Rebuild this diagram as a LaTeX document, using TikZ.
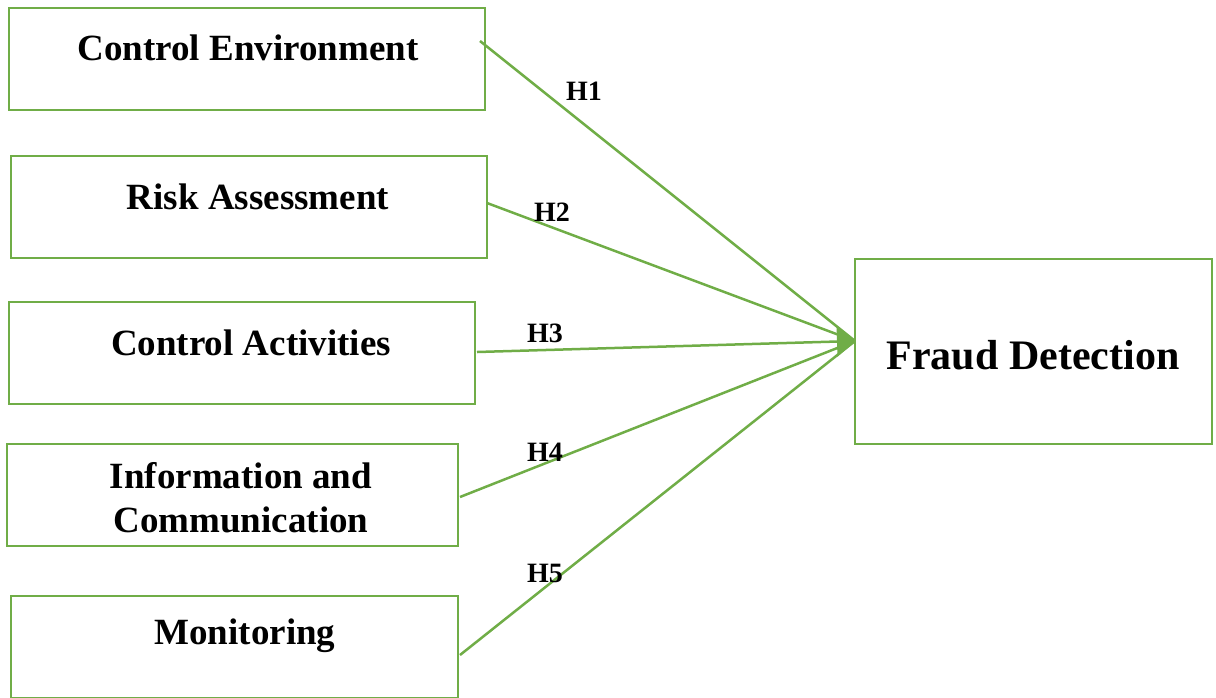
\documentclass[tikz,border=0pt]{standalone}
\usepackage{fontspec}
\setmainfont{Liberation Serif}
\usetikzlibrary{arrows.meta}
\definecolor{lg}{HTML}{70AD47}
\begin{document}
\begin{tikzpicture}[x=1pt,y=-1pt,
  box/.style={draw=lg,line width=2.5pt,fill=none},
  lbl/.style={font=\fontsize{37}{44}\selectfont\bfseries,align=center,inner sep=0pt},
  hyp/.style={font=\fontsize{28}{32}\selectfont\bfseries,inner sep=0pt},
  conn/.style={draw=lg,line width=2.5pt}]
\useasboundingbox (0,0) rectangle (1216,697);
% boxes
\draw[box] (9,8) rectangle (485,110);
\draw[box] (11,156) rectangle (487,258);
\draw[box] (9,302) rectangle (475,404);
\draw[box] (7,444) rectangle (458,546);
\draw[box] (11,596) rectangle (458,698);
\draw[box] (855,259) rectangle (1212,444);
% texts
\node[lbl] (ce) at (248,48) {Control Environment};
\node[lbl] (ra) at (258,197) {Risk Assessment};
\node[lbl] (ca) at (251,343) {Control Activities};
\node[lbl] (ic) at (241,498) {Information and\\Communication};
\node[lbl] (mo) at (245,636) {Monitoring};
\node[lbl,font=\fontsize{42}{48}\selectfont\bfseries] (fd) at (1033,355) {Fraud Detection};
% connector endpoints
\coordinate (s1) at (480,41);
\coordinate (s2) at (487,203);
\coordinate (s3) at (477,352);
\coordinate (s4) at (460,497);
\coordinate (s5) at (460,655);
\coordinate (t) at (855,341);
\draw[conn] (s1) -- (t);
\draw[conn] (s2) -- (t);
\draw[conn] (s4) -- (t);
\draw[conn] (s5) -- (t);
\draw[conn,-{Triangle[length=18pt,width=30pt]}] (s3) -- (t);
% hypothesis labels
\node[hyp] (h1) at (584,91) {H1};
\node[hyp] (h2) at (552,212) {H2};
\node[hyp] (h3) at (545,333) {H3};
\node[hyp] (h4) at (545,452) {H4};
\node[hyp] (h5) at (545,573) {H5};
\end{tikzpicture}
\end{document}
